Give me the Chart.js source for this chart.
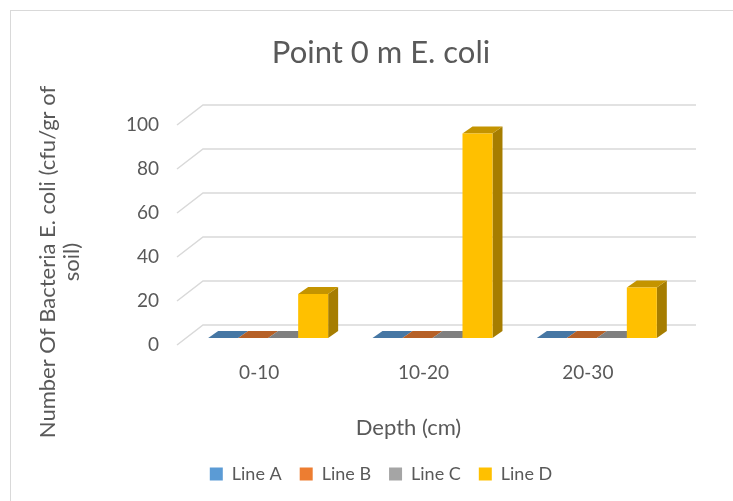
<!DOCTYPE html>
<html><head><meta charset="utf-8">
<script src="https://cdn.jsdelivr.net/npm/chart.js@4.4.1/dist/chart.umd.min.js"></script>
<style>
html,body{margin:0;padding:0;background:#fff;overflow:hidden;width:733px;height:501px}
#frame{position:absolute;left:10px;top:10px;width:760px;height:540px;border:1.5px solid #d9d9d9;box-sizing:border-box}
#wrap{position:absolute;left:0;top:0;width:733px;height:501px}
</style></head><body>
<div id="frame"></div>
<div id="wrap"><canvas id="c" width="733" height="501"></canvas></div>
<script>
const titleText = 'Point 0 m E. coli';
const categories = ['0-10', '10-20', '20-30'];
const seriesNames = ['Line A', 'Line B', 'Line C', 'Line D'];
const lineA = [0, 0, 0];
const lineB = [0, 0, 0];
const lineC = [0, 0, 0];
const lineD = [20, 93, 23];
const yTicks = [0, 20, 40, 60, 80, 100];
const yTitle = ['Number Of Bacteria E. coli (cfu/gr of', 'soil)'];
const xTitle = 'Depth (cm)';
const colors = ['#5B9BD5', '#ED7D31', '#A5A5A5', '#FFC000'];

const FONT = 'Lato';
const TEXT = '#595959';
const WALL_DX = 26, WALL_DY = 20;
const SHIFT_X = 9, SHIFT_Y = 7;
const BAR_DX = 10, BAR_DY = 7;

function shade(hex, f) {
  const n = parseInt(hex.slice(1), 16);
  const r = Math.round(((n >> 16) & 255) * f), g = Math.round(((n >> 8) & 255) * f), b = Math.round((n & 255) * f);
  return `rgb(${r},${g},${b})`;
}

const threeD = {
  id: 'threeD',
  beforeDatasetsDraw(chart) {
    const ctx = chart.ctx, ys = chart.scales.y, a = chart.chartArea;
    ctx.save();
    ctx.strokeStyle = '#d9d9d9';
    ctx.lineWidth = 1.5;
    ys.ticks.forEach(t => {
      const py = ys.getPixelForValue(t.value);
      ctx.beginPath();
      ctx.moveTo(a.left, py);
      ctx.lineTo(a.left + WALL_DX, py - WALL_DY);
      ctx.lineTo(a.right + WALL_DX, py - WALL_DY);
      ctx.stroke();
    });
    const n = chart.data.labels.length;
    for (let i = 0; i < n; i++) {
      chart.data.datasets.forEach((ds, d) => {
        const el = chart.getDatasetMeta(d).data[i];
        const p = el.getProps(['x', 'y', 'base', 'width'], true);
        const l = p.x - p.width / 2 + SHIFT_X, r = p.x + p.width / 2 + SHIFT_X;
        const t = Math.min(p.y, p.base) - SHIFT_Y, b = p.base - SHIFT_Y;
        ctx.fillStyle = shade(colors[d], 0.65);
        ctx.beginPath();
        ctx.moveTo(r, t); ctx.lineTo(r + BAR_DX, t - BAR_DY);
        ctx.lineTo(r + BAR_DX, b - BAR_DY); ctx.lineTo(r, b);
        ctx.closePath(); ctx.fill();
        ctx.fillStyle = shade(colors[d], 0.77);
        ctx.beginPath();
        ctx.moveTo(l, t); ctx.lineTo(r, t);
        ctx.lineTo(r + BAR_DX, t - BAR_DY); ctx.lineTo(l + BAR_DX, t - BAR_DY);
        ctx.closePath(); ctx.fill();
      });
    }
    ctx.restore();
    ctx.save();
    ctx.translate(SHIFT_X, -SHIFT_Y);
  },
  afterDatasetsDraw(chart) {
    chart.ctx.restore();
  },
  afterDraw(chart) {
    const ctx = chart.ctx, a = chart.chartArea;
    ctx.save();
    ctx.fillStyle = TEXT;
    ctx.font = `22px ${FONT}`;
    ctx.textAlign = 'center';
    ctx.textBaseline = 'middle';
    ctx.fillText(xTitle, (a.left + a.right) / 2 - 15, 428);
    ctx.translate(48, 262);
    ctx.rotate(-Math.PI / 2);
    yTitle.forEach((line, k) => ctx.fillText(line, 0, k * 24));
    ctx.restore();
  }
};

const seriesValues = [lineA, lineB, lineC, lineD];

new Chart(document.getElementById('c'), {
  type: 'bar',
  data: {
    labels: categories,
    datasets: seriesNames.map((name, i) => ({
      label: name,
      data: seriesValues[i],
      backgroundColor: colors[i],
      borderColor: colors[i],
      borderWidth: 0,
      barPercentage: 1,
      categoryPercentage: 0.73
    }))
  },
  options: {
    responsive: false,
    animation: false,
    devicePixelRatio: 1,
    layout: { padding: { left: 92, right: 63, top: 0, bottom: 8 } },
    plugins: {
      title: {
        display: true, text: titleText, color: TEXT,
        font: { family: FONT, size: 31, weight: 'normal', lineHeight: 1.2 },
        padding: { top: 34.4, bottom: 53.4 }
      },
      legend: {
        position: 'bottom',
        labels: {
          color: TEXT, font: { family: FONT, size: 18 },
          boxWidth: 13, boxHeight: 13, padding: 18
        }
      },
      tooltip: { enabled: false }
    },
    scales: {
      x: {
        grid: { display: false, drawTicks: false },
        border: { display: false },
        ticks: { color: TEXT, font: { family: FONT, size: 19 }, padding: 16 },
        afterFit(s) { s.height = 102; }
      },
      y: {
        min: 0, max: 100,
        afterBuildTicks(s) { s.ticks = yTicks.map(v => ({ value: v })); },
        grid: { display: false, drawTicks: false },
        border: { display: false },
        ticks: { color: TEXT, font: { family: FONT, size: 19 }, padding: 18 },
        afterFit(s) { s.width = 85; }
      }
    }
  },
  plugins: [threeD]
});
</script>
</body></html>
